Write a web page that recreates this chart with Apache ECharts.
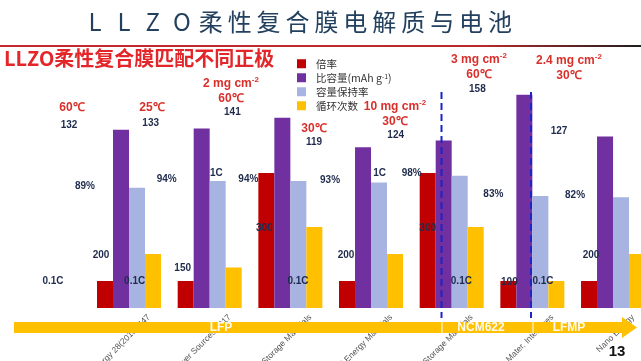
<!DOCTYPE html>
<html><head><meta charset="utf-8">
<script src="https://cdn.jsdelivr.net/npm/echarts@6/dist/echarts.min.js"></script>
<style>html,body{margin:0;padding:0;background:#fff}#c{width:641px;height:361px}</style>
</head><body><div id="c"></div><script>
const titleText = 'LLZO柔性复合膜电解质与电池';
const subtitleText = 'LLZO柔性复合膜匹配不同正极';
const categories = ['Nano Energy 28(2016) 447', 'J. Power Sources 2017', 'Energy Storage Materials', 'Advanced Energy Materials', 'Energy Storage Materials', 'ACS Appl. Mater. Interfaces', 'Nano Energy'];
const seriesNames = ['倍率', '比容量(mAh g-1)', '容量保持率', '循环次数'];
const rate = [0.1, 0.1, 1, 0.1, 1, 0.1, 0.1];
const capacity = [132, 133, 141, 119, 124, 158, 127];
const retention = [89, 94, 94, 93, 98, 83, 82];
const cycles = [200, 150, 300, 200, 300, 100, 200];
const loadings = ['', '', '2 mg cm-2', '', '10 mg cm-2', '3 mg cm-2', '2.4 mg cm-2'];
const temperatures = ['60℃', '25℃', '60℃', '30℃', '30℃', '60℃', '30℃'];
const cathodes = ['LFP', 'NCM622', 'LFMP'];
const pageNo = '13';

const colors = ['#C00000', '#7030A0', '#A7B3E0', '#FFC000'];
const labelFont = {fontFamily: 'Liberation Sans', fontWeight: 'bold', fontSize: 10, color: '#1f2b4d'};
function items(values, dy) {
  return values.map((v, i) => ({value: v, label: {offset: [-52 + i, dy]}}));
}
function barSeries(idx, values, yAxisIndex, fmt, dy) {
  return {
    name: seriesNames[idx], type: 'bar', yAxisIndex: yAxisIndex, barWidth: 16, barGap: '0%',
    itemStyle: {color: colors[idx]},
    label: Object.assign({show: true, position: 'top', distance: 0, formatter: fmt}, labelFont),
    data: items(values, dy), z: 2
  };
}
const red = '#D9302C';
const annPos = [[72,115],[152,115],[231,106],[314,136],[395,129],[479,82],[569,83]];
const annotations = annPos.map((p, i) => {
  const l = loadings[i];
  const txt = (l ? '{a|' + l.replace('-2', '') + '}{s|-2}\n' : '') + '{a|' + temperatures[i] + '}';
  return {type: 'text', x: p[0], y: p[1], z: 50,
    style: {text: txt, align: 'center', textAlign: 'center', verticalAlign: 'bottom', textVerticalAlign: 'bottom',
      rich: {a: {fontSize: 12, fontWeight: 'bold', fontFamily: 'Liberation Sans', fill: red, color: red, lineHeight: 15, align: 'center'},
             s: {fontSize: 8, fontWeight: 'bold', fontFamily: 'Liberation Sans', fill: red, color: red, verticalAlign: 'top', lineHeight: 15}}}};
});
const titleChars = Array.from(titleText).map((ch, i, arr) => ({
  type: 'text', x: 95 + i * (405 / (arr.length - 1)), y: 22, z: 50,
  style: {text: ch, align: 'center', textAlign: 'center', verticalAlign: 'middle', textVerticalAlign: 'middle', font: '24px "Noto Sans CJK SC"', fill: '#23405f'}
}));
const bandY1 = 322, bandY2 = 333;
const graphics = [
  {type: 'rect', z: 50, shape: {x: 0, y: 45, width: 641, height: 2},
    style: {fill: {type: 'linear', x: 0, y: 0, x2: 1, y2: 0, colorStops: [{offset: 0, color: '#c8282b'}, {offset: 0.75, color: '#b82a2a'}, {offset: 1, color: '#1e1e1e'}]}}},
  {type: 'text', x: 4, y: 58, z: 50, style: {text: subtitleText, align: 'left', textAlign: 'left', verticalAlign: 'middle', textVerticalAlign: 'middle', font: 'bold 20px "Noto Sans CJK SC"', fill: '#e3262a'}},
  {type: 'polygon', z: 60, shape: {points: [[14, bandY1], [622, bandY1], [622, 317], [637, 327.5], [622, 338], [622, bandY2], [14, bandY2]]}, style: {fill: '#FFC000'}},
  {type: 'line', z: 61, shape: {x1: 442, y1: 318, x2: 442, y2: 334}, style: {stroke: '#ffffff', lineWidth: 1}},
  {type: 'line', z: 61, shape: {x1: 533, y1: 318, x2: 533, y2: 334}, style: {stroke: '#ffffff', lineWidth: 1}},
  {type: 'line', z: 62, shape: {x1: 441.5, y1: 92, x2: 441.5, y2: 318}, style: {stroke: '#1c24c8', lineWidth: 2, lineDash: [7, 4]}},
  {type: 'line', z: 62, shape: {x1: 531, y1: 92, x2: 531, y2: 318}, style: {stroke: '#1c24c8', lineWidth: 2, lineDash: [7, 4]}},
  {type: 'text', x: 221, y: 328, z: 63, style: {text: cathodes[0], align: 'center', textAlign: 'center', verticalAlign: 'middle', textVerticalAlign: 'middle', font: 'bold 12px "Liberation Sans"', fill: 'rgba(255,255,255,0.92)'}},
  {type: 'text', x: 481, y: 328, z: 63, style: {text: cathodes[1], align: 'center', textAlign: 'center', verticalAlign: 'middle', textVerticalAlign: 'middle', font: 'bold 12px "Liberation Sans"', fill: 'rgba(255,255,255,0.92)'}},
  {type: 'text', x: 569, y: 328, z: 63, style: {text: cathodes[2], align: 'center', textAlign: 'center', verticalAlign: 'middle', textVerticalAlign: 'middle', font: 'bold 12px "Liberation Sans"', fill: 'rgba(255,255,255,0.92)'}},
  {type: 'text', x: 617, y: 352, z: 63, style: {text: pageNo, align: 'center', textAlign: 'center', verticalAlign: 'middle', textVerticalAlign: 'middle', font: 'bold 15px "Liberation Sans"', fill: '#111'}}
].concat(titleChars, annotations);

const chart = echarts.init(document.getElementById('c'), null, {renderer: 'canvas'});
chart.setOption({
  animation: false,
  backgroundColor: '#fff',
  grid: [
    {left: 88.67, width: 564.7, top: 38, bottom: 53, outerBoundsMode: 'none', containLabel: false},
    {left: 108.67, width: 564.7, top: 38, bottom: 53, outerBoundsMode: 'none', containLabel: false}
  ],
  legend: {
    orient: 'vertical', left: 292, top: 53.5, icon: 'rect', itemWidth: 9, itemHeight: 9, itemGap: 3.5,
    data: seriesNames,
    formatter: n => n.replace('g-1', 'g{s|-1}'),
    textStyle: {fontSize: 10.5, color: '#333', fontFamily: 'Noto Sans CJK SC', padding: [0, 0, 0, 5],
      rich: {s: {fontSize: 7, color: '#333', verticalAlign: 'top', fontFamily: 'Noto Sans CJK SC'}}}
  },
  xAxis: [
    {type: 'category', gridIndex: 0, data: categories, axisLine: {show: false}, axisTick: {show: false}, axisLabel: {show: false}, splitLine: {show: false}},
    {type: 'category', gridIndex: 1, data: categories, axisLine: {show: false}, axisTick: {show: false}, splitLine: {show: false},
      axisLabel: {rotate: 45, interval: 0, margin: 8, fontSize: 8.5, color: '#555', fontFamily: 'Liberation Sans'}}
  ],
  yAxis: [
    {type: 'value', gridIndex: 0, min: 0, max: 200, show: false},
    {type: 'value', gridIndex: 0, min: 0, max: 1000, show: false},
    {type: 'log', gridIndex: 0, logBase: 10, min: 0.0562341, max: 17.7828, startValue: 0.0562341, show: false},
    {type: 'value', gridIndex: 1, min: 0, max: 200, show: false}
  ],
  series: [
    barSeries(0, rate, 2, p => p.value + 'C', 5),
    barSeries(1, capacity, 0, p => p.value, 0),
    barSeries(2, retention, 0, p => p.value + '%', 3),
    barSeries(3, cycles, 1, p => p.value, 6)
  ],
  graphic: graphics
});
</script></body></html>
